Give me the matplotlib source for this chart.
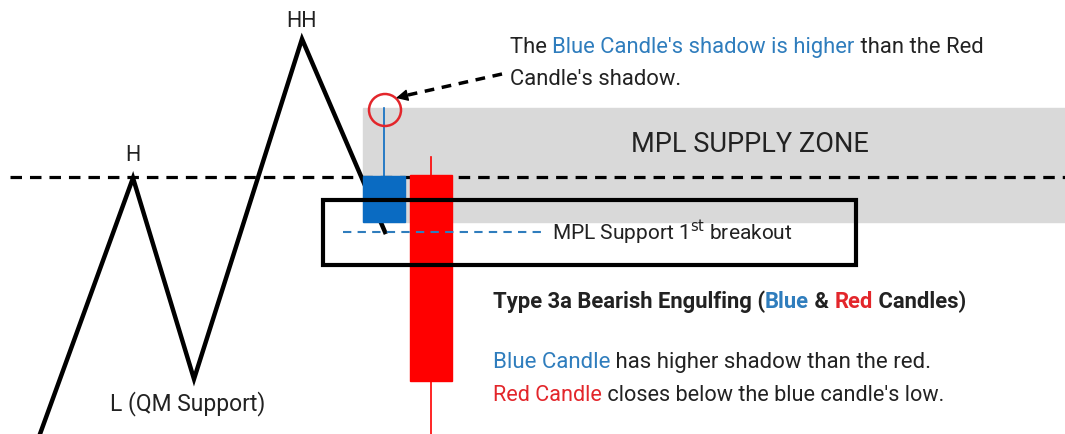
import matplotlib.pyplot as plt
from matplotlib.patches import Rectangle, Circle

plt.rcParams['font.family'] = ['Roboto', 'DejaVu Sans']

# zigzag swing points (pixel space, y grows downwards)
swing_x = [40, 133, 194, 302, 385]
swing_y = [434, 178, 379, 39, 232]
swing_labels = ['', 'H', 'L (QM Support)', 'HH', '']

# candles: centre, open, close, high, low (pixel space)
candle_x = [384, 431]
candle_open = [222, 175]
candle_close = [176, 381]
candle_high = [108, 157]
candle_low = [222, 434]
candle_colors = ['#0a6bc2', '#ff0000']

zone_top, zone_bottom = 108, 222
mpl_level = 177
support_level = 232

BLUE = '#2f7dbd'
RED = '#e3262b'
DARK = '#222222'

fig = plt.figure(figsize=(10.65, 4.34), dpi=100)
ax = fig.add_axes([0, 0, 1, 1])
ax.set_xlim(0, 1065)
ax.set_ylim(434, 0)
ax.axis('off')

# supply zone
ax.add_patch(Rectangle((363, zone_top), 1065 - 363, zone_bottom - zone_top,
                       color='#d9d9d9', zorder=0))
ax.text(750, 144, 'MPL SUPPLY ZONE', fontsize=19.5, color=DARK,
        ha='center', va='center')

# MPL dashed level
ax.plot([10, 1065], [mpl_level, mpl_level], color='black', lw=2.3,
        linestyle=(0, (3.6, 2.5)), zorder=1)

# zigzag
ax.plot(swing_x, swing_y, color='black', lw=3.2, zorder=2, solid_joinstyle='miter')
ax.text(swing_x[1], swing_y[1] - 12, swing_labels[1], fontsize=15.5, color=DARK,
        ha='center', va='bottom')
ax.text(swing_x[2] - 6, swing_y[2] + 12, swing_labels[2], fontsize=16.5, color=DARK,
        ha='center', va='top')
ax.text(swing_x[3], swing_y[3] - 7, swing_labels[3], fontsize=15.5, color=DARK,
        ha='center', va='bottom')

# candles
w = 42
for cx, o, c, h, l, col in zip(candle_x, candle_open, candle_close,
                               candle_high, candle_low, candle_colors):
    ax.plot([cx, cx], [h, l], color=col, lw=1.2, zorder=3)
    ax.add_patch(Rectangle((cx - w / 2, min(o, c)), w, abs(o - c), color=col, zorder=4))

# support breakout line
ax.plot([343, 545], [support_level, support_level], color=BLUE, lw=1.5,
        linestyle=(0, (4, 3)), zorder=5)
ax.text(552, support_level + 1, 'MPL Support 1$^{\\mathrm{st}}$ breakout',
        fontsize=15, color=DARK, va='center', ha='left', zorder=6)

# box around breakout
ax.add_patch(Rectangle((323, 200), 856 - 323, 265 - 200, fill=False,
                       edgecolor='black', lw=3, zorder=6))

# red circle on blue shadow
ax.add_patch(Circle((385, 110), 16, fill=False, edgecolor=RED, lw=1.8, zorder=7))

# dashed pointer arrow
ax.plot([502, 408], [74, 95], color='black', lw=2.5, linestyle=(0, (2.8, 2.2)), zorder=7)
ax.annotate('', xy=(396, 98), xytext=(410, 94.6),
            arrowprops=dict(arrowstyle='-|>', color='black', lw=1,
                            mutation_scale=18, shrinkA=0, shrinkB=0), zorder=7)

fig.canvas.draw()
renderer = fig.canvas.get_renderer()


def rich(x, y, parts, **kw):
    for s, col in parts:
        t = ax.text(x, y, s, color=col, va='baseline', ha='left', **kw)
        bb = t.get_window_extent(renderer)
        x = ax.transData.inverted().transform((bb.x1, bb.y0))[0]


rich(510, 53, [('The ', DARK), ("Blue Candle's shadow is higher", BLUE),
               (' than the Red', DARK)], fontsize=15.8)
rich(510, 85, [("Candle's shadow.", DARK)], fontsize=15.8)

rich(493, 308, [('Type 3a Bearish Engulfing (', DARK), ('Blue', BLUE),
                (' & ', DARK), ('Red', RED), (' Candles)', DARK)],
     fontsize=15.8, fontweight='bold')
rich(493, 368, [('Blue Candle', BLUE), (' has higher shadow than the red.', DARK)],
     fontsize=16)
rich(493, 401, [('Red Candle', RED), (" closes below the blue candle's low.", DARK)],
     fontsize=15.6)

fig.savefig('out.png', dpi=100)
